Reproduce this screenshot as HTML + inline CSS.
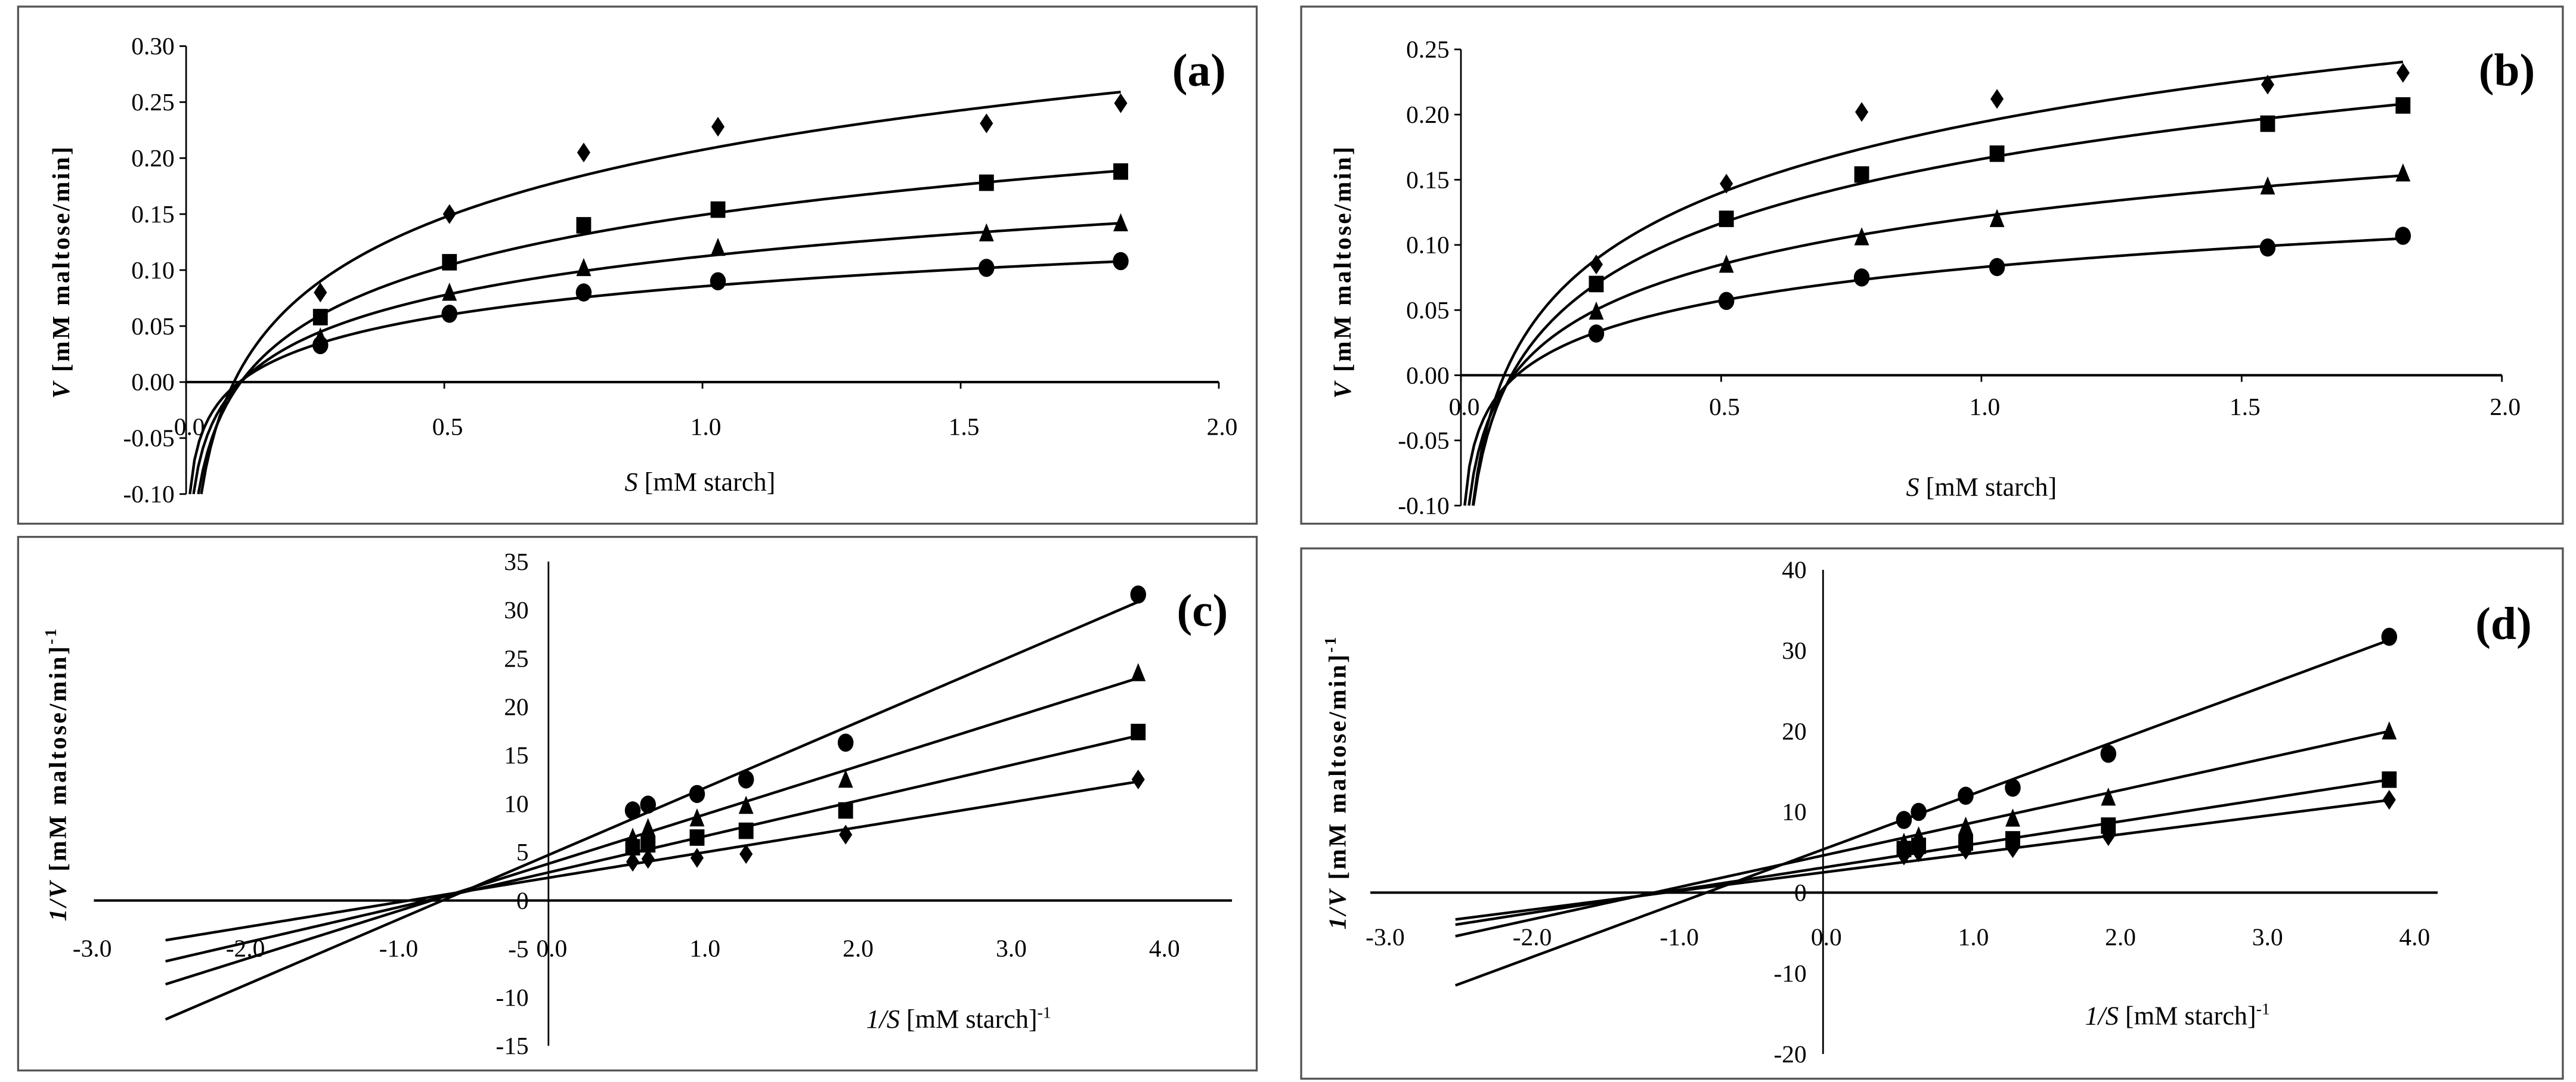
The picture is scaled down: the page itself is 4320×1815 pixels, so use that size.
<!DOCTYPE html>
<html><head><meta charset="utf-8">
<style>
html,body{margin:0;padding:0;background:#fff;}
svg{display:block;}
text{font-family:"Liberation Serif",serif;fill:#000;}
</style></head>
<body>
<svg id="fig" width="4320" height="1815" viewBox="0 0 1564 657" preserveAspectRatio="none" xmlns="http://www.w3.org/2000/svg">
<rect x="0" y="0" width="1564" height="657" fill="#fff"/>
</svg>
<script>
// ---- shared data ----
const sValues = [0.26, 0.51, 0.77, 1.03, 1.55, 1.81];
const invS = [0.55, 0.65, 0.97, 1.29, 1.94, 3.85];
const seriesNames = ['diamond', 'square', 'triangle', 'circle'];

// panel a
const aDiamond = [0.080, 0.150, 0.205, 0.228, 0.231, 0.249];
const aSquare = [0.058, 0.107, 0.140, 0.154, 0.178, 0.188];
const aTriangle = [0.040, 0.080, 0.102, 0.120, 0.133, 0.142];
const aCircle = [0.033, 0.061, 0.080, 0.090, 0.102, 0.108];
const aFitSlope = [0.0871, 0.0665, 0.050, 0.0376];
const aFitZero = [0.0925, 0.106, 0.106, 0.103];
const aYTicks = ['-0.10','-0.05','0.00','0.05','0.10','0.15','0.20','0.25','0.30'];
const aXTicks = ['0.0','0.5','1.0','1.5','2.0'];

// panel b
const bDiamond = [0.085, 0.147, 0.202, 0.212, 0.223, 0.232];
const bSquare = [0.070, 0.120, 0.154, 0.170, 0.193, 0.207];
const bTriangle = [0.049, 0.085, 0.106, 0.120, 0.145, 0.155];
const bCircle = [0.032, 0.057, 0.075, 0.083, 0.098, 0.107];
const bFitSlope = [0.078, 0.0711, 0.0531, 0.0371];
const bFitZero = [0.083, 0.097, 0.101, 0.107];
const bYTicks = ['-0.10','-0.05','0.00','0.05','0.10','0.15','0.20','0.25'];
const bXTicks = ['0.0','0.5','1.0','1.5','2.0'];

// panel c
const cDiamond = [4.0, 4.3, 4.4, 4.8, 6.8, 12.5];
const cSquare = [5.5, 5.8, 6.5, 7.2, 9.3, 17.4];
const cTriangle = [6.5, 7.5, 8.5, 9.8, 12.5, 23.5];
const cCircle = [9.3, 9.9, 11.0, 12.5, 16.3, 31.6];
const cLineSlope = [2.58, 3.67, 4.98, 6.79];
const cLineIntercept = [2.35, 2.9, 3.8, 4.7];
const cYTicks = ['-15','-10','-5','0','5','10','15','20','25','30','35'];
const cXTicks = ['-3.0','-2.0','-1.0','0.0','1.0','2.0','3.0','4.0'];

// panel d
const dDiamond = [4.6, 5.0, 5.3, 5.5, 7.0, 11.5];
const dSquare = [5.4, 5.8, 6.2, 6.6, 8.3, 14.0];
const dTriangle = [6.2, 7.0, 8.2, 9.2, 11.8, 20.0];
const dCircle = [9.0, 10.0, 12.0, 13.0, 17.2, 31.7];
const dLineSlope = [2.33, 2.83, 4.0, 6.74];
const dLineIntercept = [2.5, 3.1, 4.6, 5.35];
const dYTicks = ['-20','-10','0','10','20','30','40'];
const dXTicks = ['-3.0','-2.0','-1.0','0.0','1.0','2.0','3.0','4.0'];

const NS = 'http://www.w3.org/2000/svg';
const svg = document.getElementById('fig');
function mk(tag, attrs, parent){
  const e = document.createElementNS(NS, tag);
  for (const k in attrs) e.setAttribute(k, attrs[k]);
  (parent||svg).appendChild(e);
  return e;
}
function marker(g, kind, x, y){
  let el;
  if (kind==='diamond') el = mk('polygon',{points:`${x},${y-6} ${x+4},${y} ${x},${y+6} ${x-4},${y}`},g);
  else if (kind==='square') el = mk('rect',{x:x-4.5,y:y-5,width:9,height:10},g);
  else if (kind==='triangle') el = mk('polygon',{points:`${x},${y-6} ${x+4.5},${y+5} ${x-4.5},${y+5}`},g);
  else el = mk('ellipse',{cx:x,cy:y,rx:4.8,ry:5.5},g);
  el.setAttribute('fill','#000');
  
  
}

function panel(cfg){
  const g = mk('g',{});
  
  
  const box = mk('rect',{x:cfg.box[0],y:cfg.box[1],width:cfg.box[2]-cfg.box[0],height:cfg.box[3]-cfg.box[1],fill:'none',stroke:'#555','stroke-width':1.2},g);
  
  
  const X = v => cfg.x0 + (v - cfg.xmin)/(cfg.xmax-cfg.xmin)*(cfg.x1-cfg.x0);
  const Y = v => cfg.y0 - (v - cfg.ymin)/(cfg.ymax-cfg.ymin)*(cfg.y0-cfg.y1);
  const ya = mk('line',{x1:X(0),y1:Y(cfg.ymin),x2:X(0),y2:Y(cfg.ymax),stroke:'#000','stroke-width':1},g);
  
  
  const xa = mk('line',{x1:cfg.xAxisFrom,y1:Y(0),x2:cfg.xAxisTo,y2:Y(0),stroke:'#000','stroke-width':1.5},g);
  
  
  cfg.yTicks.forEach(t=>{
    const v = parseFloat(t);
    if (cfg.yTickMarks) mk('line',{x1:X(0)-4,y1:Y(v),x2:X(0),y2:Y(v),stroke:'#000','stroke-width':1},g);
    const tx = mk('text',{x:X(0)-cfg.yLabelGap,y:Y(v)+5,'text-anchor':'end','font-size':15},g);
    tx.textContent = t;
    
    
  });
  cfg.xTicks.forEach(t=>{
    const v = parseFloat(t);
    if (cfg.xTickMarks) mk('line',{x1:X(v),y1:Y(0),x2:X(v),y2:Y(0)+4,stroke:'#000','stroke-width':1},g);
    const tx = mk('text',{x:X(v)+cfg.xLabelDx,y:Y(0)+cfg.xLabelDy,'text-anchor':'middle','font-size':15},g);
    tx.textContent = t;
    
    
  });
  cfg.lines.forEach((fn,i)=>{
    let d='';
    for (let k=0;k<=200;k++){
      const xv = cfg.lineFrom[i] + (cfg.lineTo-cfg.lineFrom[i])*k/200;
      d += (k?'L':'M')+X(xv).toFixed(2)+','+Y(fn(xv)).toFixed(2);
    }
    const p = mk('path',{d:d,fill:'none',stroke:'#000','stroke-width':1.6},g);
    
    
  });
  cfg.series.forEach((arr,i)=>{
    arr.forEach((v,j)=>marker(g, seriesNames[i], X(cfg.xs[j]), Y(v)));
  });
  const xt = mk('text',{x:cfg.xTitle[0],y:cfg.xTitle[1],'text-anchor':'middle','font-size':16},g);
  xt.innerHTML = cfg.xTitleHtml;
  
  
  const yt = mk('text',{x:0,y:0,'text-anchor':'middle','font-size':15,'font-weight':'bold','letter-spacing':1.2,transform:`translate(${cfg.yTitle[0]},${cfg.yTitle[1]}) rotate(-90)`},g);
  yt.innerHTML = cfg.yTitleHtml;
  
  
  const lab = mk('text',{x:cfg.label[0],y:cfg.label[1],'text-anchor':'middle','font-size':28,'font-weight':'bold'},g);
  lab.textContent = cfg.labelText;
  
  
}

const logFit = (a,z) => s => a*Math.log(s/z);
const linFit = (m,b) => x => m*x+b;
const vTitle = '<tspan font-style="italic">V</tspan> [mM maltose/min]';
const ivTitle = '<tspan font-style="italic">1/V</tspan> [mM maltose/min]<tspan dy="-6" font-size="10">-1</tspan>';
const sTitle = '<tspan font-style="italic">S</tspan> [mM starch]';
const isTitle = '<tspan font-style="italic">1/S</tspan> [mM starch]<tspan dy="-6" font-size="10">-1</tspan>';

panel({name:'panel-a', box:[11,4,763,318], x0:113,x1:740,xmin:0,xmax:2, y0:300,y1:28,ymin:-0.10,ymax:0.30,
  xAxisFrom:113,xAxisTo:740, yTicks:aYTicks,xTicks:aXTicks,yTickMarks:true,xTickMarks:true,yLabelGap:7,xLabelDx:2,xLabelDy:32,
  lines:aFitSlope.map((a,i)=>logFit(a,aFitZero[i])), lineFrom:aFitSlope.map((a,i)=>aFitZero[i]*Math.exp(-0.10/a)), lineTo:1.81,
  series:[aDiamond,aSquare,aTriangle,aCircle], xs:sValues,
  xTitle:[425,298], xTitleHtml:sTitle, yTitle:[42,165], yTitleHtml:vTitle, label:[728,52], labelText:'(a)'});

panel({name:'panel-b', box:[790,4,1556,318], x0:887,x1:1519,xmin:0,xmax:2, y0:307,y1:30,ymin:-0.10,ymax:0.25,
  xAxisFrom:887,xAxisTo:1519, yTicks:bYTicks,xTicks:bXTicks,yTickMarks:true,xTickMarks:true,yLabelGap:7,xLabelDx:2,xLabelDy:24,
  lines:bFitSlope.map((a,i)=>logFit(a,bFitZero[i])), lineFrom:bFitSlope.map((a,i)=>bFitZero[i]*Math.exp(-0.10/a)), lineTo:1.81,
  series:[bDiamond,bSquare,bTriangle,bCircle], xs:sValues,
  xTitle:[1203,301], xTitleHtml:sTitle, yTitle:[820,165], yTitleHtml:vTitle, label:[1522,52], labelText:'(b)'});

panel({name:'panel-c', box:[11,326,763,650], x0:54,x1:705,xmin:-3,xmax:4, y0:635,y1:341,ymin:-15,ymax:35,
  xAxisFrom:57,xAxisTo:748, yTicks:cYTicks,xTicks:cXTicks,yTickMarks:false,xTickMarks:false,yLabelGap:12,xLabelDx:2,xLabelDy:34,
  lines:cLineSlope.map((m,i)=>linFit(m,cLineIntercept[i])), lineFrom:[-2.5,-2.5,-2.5,-2.5], lineTo:3.85,
  series:[cDiamond,cSquare,cTriangle,cCircle], xs:invS,
  xTitle:[582,624], xTitleHtml:isTitle, yTitle:[40,470], yTitleHtml:ivTitle, label:[730,380], labelText:'(c)'});

panel({name:'panel-d', box:[790,333,1556,655], x0:839,x1:1464,xmin:-3,xmax:4, y0:640,y1:346,ymin:-20,ymax:40,
  xAxisFrom:832,xAxisTo:1480, yTicks:dYTicks,xTicks:dXTicks,yTickMarks:false,xTickMarks:false,yLabelGap:10,xLabelDx:2,xLabelDy:32,
  lines:dLineSlope.map((m,i)=>linFit(m,dLineIntercept[i])), lineFrom:[-2.5,-2.5,-2.5,-2.5], lineTo:3.85,
  series:[dDiamond,dSquare,dTriangle,dCircle], xs:invS,
  xTitle:[1322,622], xTitleHtml:isTitle, yTitle:[817,475], yTitleHtml:ivTitle, label:[1520,388], labelText:'(d)'});
</script>
</body></html>
